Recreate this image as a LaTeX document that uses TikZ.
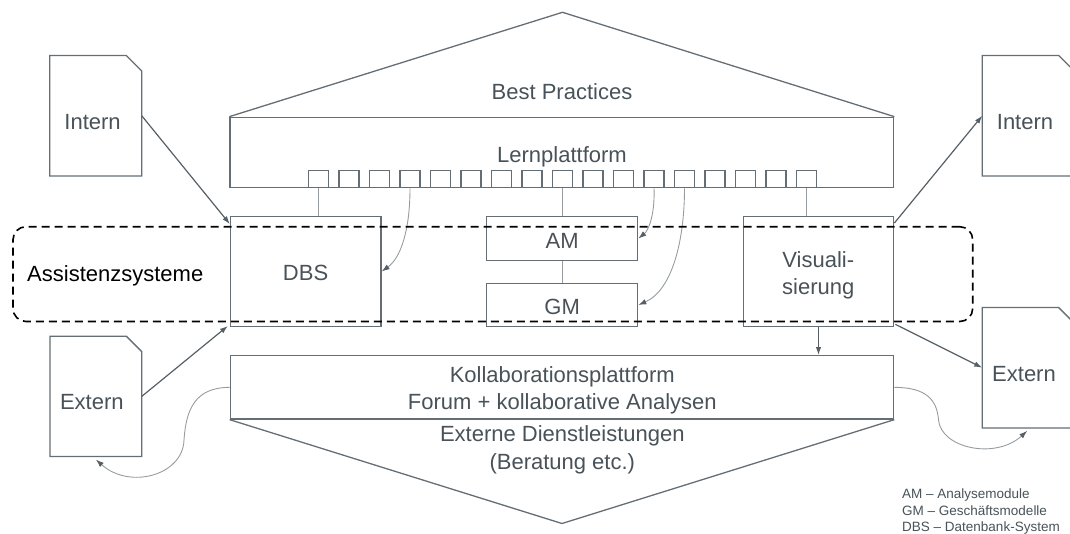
\documentclass[tikz,border=0pt]{standalone}
\usepackage{fontspec}
\setmainfont{Liberation Sans}
\usetikzlibrary{arrows.meta,calc}
\definecolor{boxline}{RGB}{100,110,116}
\definecolor{txt}{RGB}{72,82,88}
\definecolor{thinline}{RGB}{150,156,160}
\definecolor{arrline}{RGB}{85,95,101}
\tikzset{
  box/.style={draw=boxline, line width=1.3pt, inner sep=0pt, rectangle},
  sqbox/.style={draw=boxline, line width=1.1pt, inner sep=0pt, minimum width=20pt, minimum height=17pt},
  docarea/.style={inner sep=0pt, minimum width=91.5pt, minimum height=120pt},
  docline/.style={draw=boxline, line width=1.3pt, line join=miter},
  lbl/.style={text=txt, inner sep=0pt, font=\fontsize{22}{26}\selectfont, anchor=base},
  leglbl/.style={text=txt, inner sep=0pt, font=\fontsize{13.5}{16}\selectfont, anchor=base west},
  thinconn/.style={draw=thinline, line width=0.9pt},
  arr/.style={draw=arrline, line width=1.2pt, -{Latex[length=8pt,width=5.5pt]}},
  curvarr/.style={draw=thinline, line width=0.9pt, -{Latex[length=8pt,width=5.5pt,color=arrline,fill=arrline]}},
  dashframe/.style={draw=black, line width=1.6pt, dash pattern=on 8pt off 5pt, rounded corners=13pt, inner sep=0pt}
}
\begin{document}
\begin{tikzpicture}[x=1pt,y=-1pt]
\useasboundingbox (0,0) rectangle (1070,533);
% main boxes
\node[box, minimum width=663.7pt, minimum height=70.4pt] (lern) at (561.85,152.5) {};
\node[box, minimum width=150.5pt, minimum height=109.6pt] (dbs) at (305.75,271.5) {};
\node[box, minimum width=151pt, minimum height=43.6pt] (am) at (562.2,238.5) {};
\node[box, minimum width=151pt, minimum height=42.6pt] (gm) at (562.2,305) {};
\node[box, minimum width=150.4pt, minimum height=110pt] (vis) at (818.5,271.7) {};
\node[box, minimum width=663.4pt, minimum height=63.3pt] (kol) at (562,387.35) {};
% roofs
\coordinate (apexT) at (562.5,12.3);
\coordinate (apexB) at (562,523.5);
\draw[docline] (lern.north west) -- (apexT) -- (lern.north east);
\draw[docline] (kol.south west) -- (apexB) -- (kol.south east);
% squares
\foreach \k in {1,...,17}{
  \node[sqbox] (s\k) at ({562.5+(\k-9)*30.5},179.2) {};
}
% documents
\node[docarea] (intL) at (95.75,115.7) {};
\node[docarea] (extL) at (95.85,396.35) {};
\node[docarea] (intR) at (1028.25,115.7) {};
\node[docarea] (extR) at (1028.15,367.7) {};
\foreach \d in {intL,extL,intR,extR}{
  \draw[docline] (\d.south west) -- (\d.north west) -- ([xshift=-15.5pt]\d.north east) -- ([yshift=-15.5pt]\d.north east) -- (\d.south east) -- cycle;
}
% labels
\node[lbl] (tBest) at (562,99) {Best Practices};
\node[lbl] (tLern) at (562,162.3) {Lernplattform};
\node[lbl] (tIntL) at (92.6,129) {Intern};
\node[lbl] (tIntR) at (1025,129) {Intern};
\node[lbl] (tExtL) at (91.8,409) {Extern};
\node[lbl] (tExtR) at (1024,381) {Extern};
\node[lbl] (tDBS) at (305.6,280) {DBS};
\node[lbl] (tAM) at (562.2,248.3) {AM};
\node[lbl] (tGM) at (562.2,314) {GM};
\node[lbl] (tVis1) at (818.3,267.7) {Visuali-};
\node[lbl] (tVis2) at (818.3,294) {sierung};
\node[lbl] (tKol1) at (562.3,382.7) {Kollaborationsplattform};
\node[lbl] (tKol2) at (562.3,409) {Forum + kollaborative Analysen};
\node[lbl] (tExt1) at (562.3,441) {Externe Dienstleistungen};
\node[lbl] (tExt2) at (562.3,469) {(Beratung etc.)};
\node[lbl, text=black, anchor=base west] (tAss) at (27,281.7) {Assistenzsysteme};
\node[leglbl] (leg1) at (902,498.3) {AM – Analysemodule};
\node[leglbl] (leg2) at (902,515) {GM – Geschäftsmodelle};
\node[leglbl] (leg3) at (902,531.7) {DBS – Datenbank-System};
% square connectors
\draw[thinconn] (s1.south) -- (s1.south |- dbs.north);
\draw[thinconn] (s9.south) -- (s9.south |- am.north);
\draw[thinconn] (s17.south) -- (s17.south |- vis.north);
\draw[thinconn] (am.south) -- (gm.north);
\draw[curvarr] (s4.south) .. controls +(0,42) and +(19,-13.5) .. (dbs.east);
\draw[curvarr] (s12.south) .. controls +(1,27) and +(10,-8) .. (am.east);
\draw[curvarr] (s13.south) .. controls +(0,52) and +(34,-15) .. (gm.east);
% straight arrows
\draw[arr] (intL.east) -- ([yshift=-8pt]dbs.north west);
\draw[arr] (extL.east) -- ([xshift=-2pt,yshift=1pt]dbs.south west);
\draw[arr] ([yshift=-7pt]vis.north east) -- (intR.west);
\draw[arr] ([xshift=1pt,yshift=3pt]vis.south east) -- (extR.west);
\draw[arr] (vis.south) -- (vis.south |- kol.north);
% curved arrows at the bottom
\draw[curvarr] (kol.west) .. controls +(-35,0) and (186,410) .. (184,440) .. controls (183,475) and (130,490) .. ([yshift=-3pt]extL.south);
\draw[curvarr] (kol.east) .. controls +(32,0) and (937,400) .. (938.5,420) .. controls (941,448) and (995,460) .. ([xshift=-1pt,yshift=-3pt]extR.south);
% dashed frame
\node[dashframe, minimum width=959.7pt, minimum height=94.8pt] (assist) at (492.85,274.1) {};
\end{tikzpicture}
\end{document}
